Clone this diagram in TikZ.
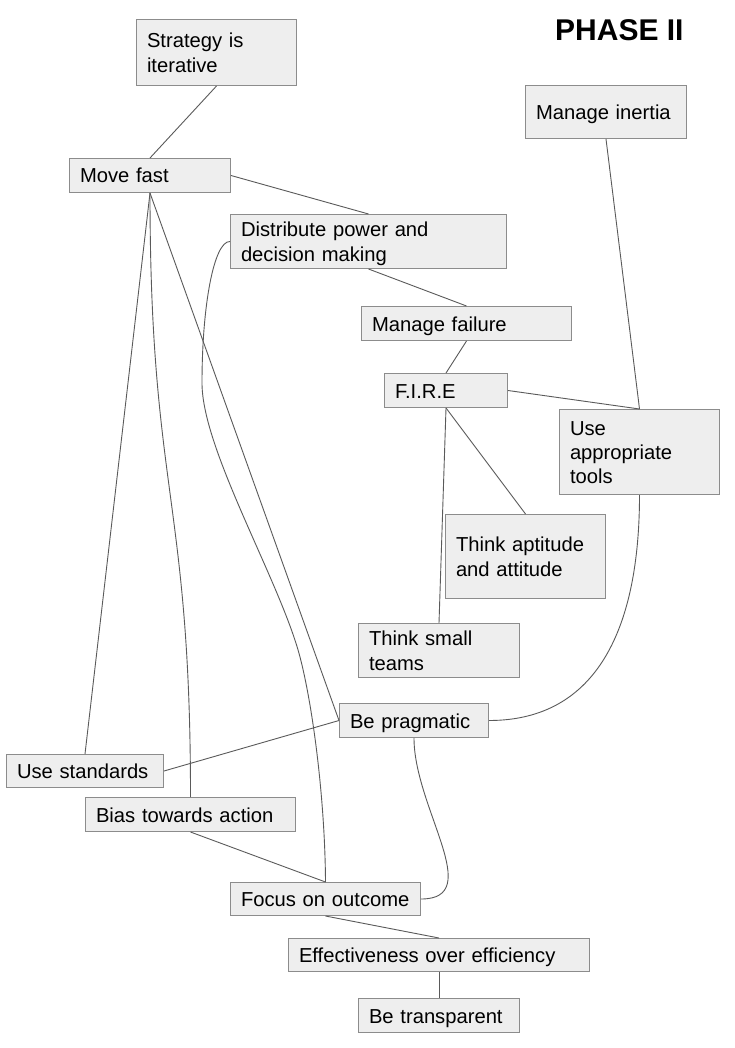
\documentclass[tikz,border=0pt]{standalone}
\usepackage{fontspec}
\setmainfont{Liberation Sans}
\definecolor{boxfill}{HTML}{EEEEEE}
\definecolor{boxline}{HTML}{8C8C8C}
\definecolor{conncol}{HTML}{5A5A5A}
\newcommand{\bs}{\rule[-4.5pt]{0pt}{24pt}}
\tikzset{
  bx/.style={draw=boxline, fill=boxfill, line width=1pt, rectangle, anchor=north west,
    inner xsep=10.5pt, inner ysep=0pt, align=left,
    font=\fontsize{20.2}{24.3}\selectfont},
  conn/.style={draw=conncol, line width=0.9pt},
}
\begin{document}
\begin{tikzpicture}[x=1pt, y=-1pt]
\fill[white] (0,0) rectangle (734,1048);
\useasboundingbox (0,0) rectangle (734,1048);

\node[anchor=base west, inner sep=0pt, font=\bfseries\fontsize{30}{36}\selectfont] (title) at (555,41) {PHASE II};

\node[bx, text width=139pt, minimum height=66pt] (strat) at (136,19) {\bs Strategy is\\\bs iterative};
\node[bx, text width=140pt, minimum height=53pt] (inertia) at (525,85) {\bs Manage inertia};
\node[bx, text width=140pt, minimum height=34pt] (move) at (69,158) {\bs Move fast};
\node[bx, text width=255pt, minimum height=54pt] (dist) at (230,214) {\bs Distribute power and\\\bs decision making};
\node[bx, text width=189pt, minimum height=34pt] (fail) at (361,306) {\bs Manage failure};
\node[bx, text width=102pt, minimum height=34pt] (fire) at (384,373) {\bs F.I.R.E};
\node[bx, text width=139pt, minimum height=85pt] (tools) at (559,409) {\bs Use\\\bs appropriate\\\bs tools};
\node[bx, text width=139pt, minimum height=84pt] (apt) at (445,514) {\bs Think aptitude\\\bs and attitude};
\node[bx, text width=140pt, minimum height=54pt] (small) at (358,623) {\bs Think small\\\bs teams};
\node[bx, text width=128pt, minimum height=34pt] (prag) at (339,703) {\bs Be pragmatic};
\node[bx, text width=136pt, minimum height=33pt] (std) at (6,754) {\bs Use standards};
\node[bx, text width=189pt, minimum height=34pt] (bias) at (85,797) {\bs Bias towards action};
\node[bx, text width=169pt, minimum height=33pt] (focus) at (230,882) {\bs Focus on outcome};
\node[bx, text width=280pt, minimum height=33pt] (eff) at (288,938) {\bs Effectiveness over efficiency};
\node[bx, text width=140pt, minimum height=34pt] (transp) at (358,998) {\bs Be transparent};

\draw[conn] (strat.south) -- (move.north);
\draw[conn] (move.east) -- (dist.north);
\draw[conn] (dist.south) -- (fail.north);
\draw[conn] (fail.south) -- (fire.north);
\draw[conn] (fire.east) -- (tools.north);
\draw[conn] (inertia.south) -- (tools.north);
\draw[conn] (fire.south) -- (apt.north);
\draw[conn] (fire.south) -- (small.north);
\draw[conn] (tools.south) .. controls +(0,130) and +(110,0) .. (prag.east);
\draw[conn] (move.south) -- (std.north);
\draw[conn] (move.south) .. controls +(0,300) and +(0,-300) .. (bias.north);
\draw[conn] (move.south) -- (prag.west);
\draw[conn] (dist.west) .. controls (214,241) and (202,305) .. (202,383)
   .. controls (202,450) and (280.5,582) .. (300,657)
   .. controls (313,707) and (325,800) .. (focus.north);
\draw[conn] (prag.south) .. controls +(0,70) and +(65,0) .. (focus.east);
\draw[conn] (bias.south) -- (focus.north);
\draw[conn] (std.east) -- (prag.west);
\draw[conn] (focus.south) -- (eff.north);
\draw[conn] (eff.south) -- (transp.north);
\end{tikzpicture}
\end{document}
